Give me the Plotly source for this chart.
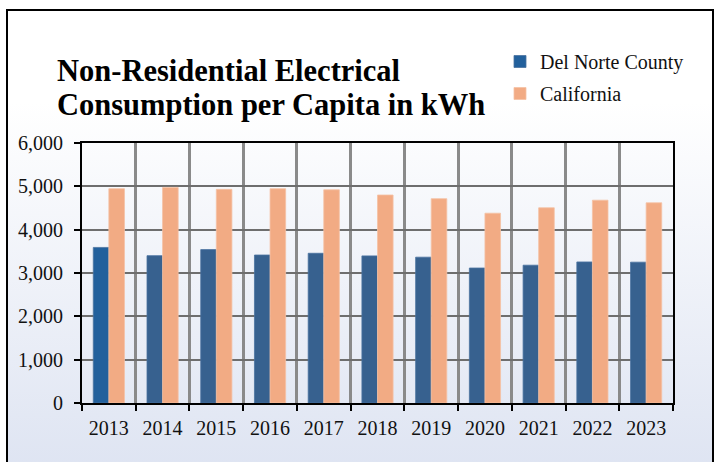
import base64
import plotly.graph_objects as go

years = ["2013", "2014", "2015", "2016", "2017", "2018", "2019", "2020", "2021", "2022", "2023"]
del_norte = [3590, 3400, 3540, 3415, 3455, 3395, 3365, 3115, 3180, 3255, 3250]
california = [4945, 4975, 4930, 4945, 4920, 4800, 4715, 4380, 4505, 4680, 4620]
y_ticks = [0, 1000, 2000, 3000, 4000, 5000, 6000]

title_lines = ["Non-Residential Electrical", "Consumption per Capita in kWh"]
series_names = ["Del Norte County", "California"]

W, H = 717, 462
L, R, T, B = 82, 44, 143, 59
PW = W - L - R
PH = H - T - B


def px_x(px):
    return (px - L) / PW


def px_y(py):
    return (H - B - py) / PH


FONT = "Liberation Serif, Times New Roman, serif"

dn_colors = ["#22609c"] + ["#37618f"] * (len(years) - 1)

fig = go.Figure()
fig.add_trace(go.Bar(
    x=years, y=del_norte, name=series_names[0],
    marker=dict(color=dn_colors, line=dict(color="#4a72a0", width=0.8)),
    legendgroup="a",
))
fig.add_trace(go.Bar(
    x=years, y=california, name=series_names[1],
    marker=dict(color="#f2ab84", line=dict(color="#f5c2a5", width=0.8)),
    legendgroup="b",
))

svg = ('<svg xmlns="http://www.w3.org/2000/svg" width="100" height="100" viewBox="0 0 100 100" '
       'preserveAspectRatio="none"><defs><linearGradient id="g" x1="0" y1="0" x2="0" y2="1">'
       '<stop offset="0.2" stop-color="#ffffff"/><stop offset="1" stop-color="#dee4f2"/>'
       '</linearGradient></defs><rect width="100" height="100" fill="url(#g)"/></svg>')
src = "data:image/svg+xml;base64," + base64.b64encode(svg.encode()).decode()

box_l, box_t, box_r, box_b = 7, 10, 713, 470

fig.update_layout(
    width=W, height=H,
    margin=dict(l=L, r=R, t=T, b=B, autoexpand=False),
    paper_bgcolor="white",
    plot_bgcolor="rgba(0,0,0,0)",
    barmode="group",
    bargap=0.42,
    bargroupgap=0,
    font=dict(family=FONT, size=20, color="#111111"),
    images=[dict(
        source=src, xref="paper", yref="paper",
        x=px_x(box_l), y=px_y(box_t),
        sizex=(box_r - box_l) / PW, sizey=(box_b - box_t) / PH,
        xanchor="left", yanchor="top", sizing="stretch", layer="below",
    )],
    shapes=[dict(
        type="rect", xref="paper", yref="paper",
        x0=px_x(box_l), x1=px_x(box_r), y0=px_y(box_b), y1=px_y(box_t),
        line=dict(color="black", width=2), fillcolor="rgba(0,0,0,0)", layer="below",
    )],
    annotations=[
        dict(text=title_lines[0], xref="paper", yref="paper", x=px_x(55), y=px_y(71),
             xanchor="left", yanchor="middle", showarrow=False,
             font=dict(family=FONT, size=30.5, color="black", weight="bold")),
        dict(text=title_lines[1], xref="paper", yref="paper", x=px_x(55), y=px_y(105),
             xanchor="left", yanchor="middle", showarrow=False,
             font=dict(family=FONT, size=30.5, color="black", weight="bold")),
    ],
    legend=dict(
        x=px_x(500), y=px_y(42), xanchor="left", yanchor="top",
        bgcolor="rgba(0,0,0,0)", font=dict(family=FONT, size=20, color="#111111"),
        tracegroupgap=3, orientation="v",
    ),
    showlegend=True,
)

fig.update_xaxes(
    type="category", tickson="boundaries", ticks="outside", ticklen=6, tickwidth=1.5,
    tickcolor="black", showline=True, linecolor="black", linewidth=2, mirror=True,
    showgrid=True, gridcolor="#8a8a8a", gridwidth=2.5,
    tickfont=dict(family=FONT, size=20, color="#111111"), ticklabelstandoff=6,
)
fig.update_yaxes(
    range=[0, 6000], tickvals=y_ticks, tickformat=",", ticks="outside", ticklen=6, tickwidth=1.5,
    tickcolor="black", showline=True, linecolor="black", linewidth=2, mirror=True,
    showgrid=True, gridcolor="#6e6e6e", gridwidth=2, zeroline=False,
    tickfont=dict(family=FONT, size=20, color="#111111"), ticklabelstandoff=7,
)

fig.write_html(
    "out.html",
    config={"displayModeBar": False},
    post_script="document.body.style.margin='0px';document.body.style.overflow='hidden';",
)
